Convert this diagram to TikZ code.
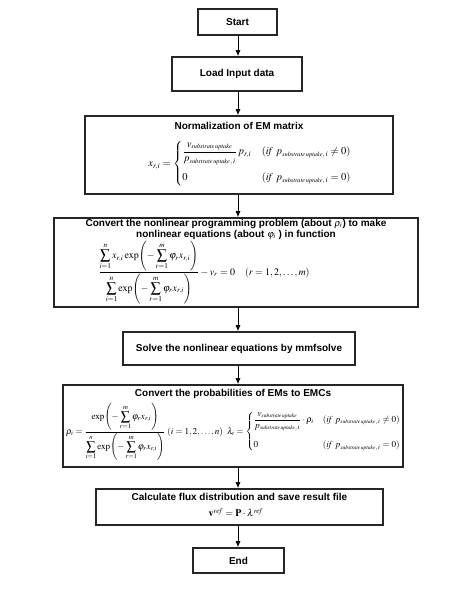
\documentclass[tikz,border=0pt]{standalone}
\usepackage{amsmath}
\usepackage{mathptmx}
\usepackage[no-math]{fontspec}
\setmainfont{Liberation Sans}
\usetikzlibrary{arrows.meta}
\newcommand{\sub}{{\scriptscriptstyle\mathit{substrate\,uptake}}}
\newcommand{\expsum}{\exp\!\left(-\sum\limits_{r=1}^{m}\varphi_r x_{r,i}\right)}
% box with its title at the top: width, height, gap above title, title
\newcommand{\topbox}[4]{\parbox[t][#2][t]{#1}{\centering\vspace*{#3}#4\par}}
\begin{document}
\begin{tikzpicture}[x=1pt,y=-1pt,
  box/.style={draw=black!85, line width=1.6pt, fill=white, align=center,
    font=\bfseries\fontsize{10}{11.5}\selectfont, inner sep=2pt},
  tbox/.style={box, inner sep=0pt, font=\bfseries\fontsize{10}{11}\selectfont},
  formula/.style={inner sep=0pt},
  arr/.style={-{Latex[length=6pt,width=5pt]}, line width=0.9pt}]
\useasboundingbox (0,0) rectangle (472,592);
\coordinate (mid) at (238,0);
% boxes
\node[box, minimum width=79pt, minimum height=26pt] (start) at (237.5,22) {Start};
\node[box, minimum width=130pt, minimum height=34pt] (load) at (237,74) {Load Input data};
\node[tbox] (norm) at (239,155) {\topbox{308pt}{78pt}{6.3pt}{Normalization of EM matrix}};
\node[tbox] (conv) at (236,262.5) {\topbox{364pt}{89pt}{1.2pt}{Convert the nonlinear programming problem (about $\rho_i$) to make\\
   nonlinear equations (about $\varphi_i$ ) in function}};
\node[box, minimum width=232pt, minimum height=33pt] (solve) at (239,348.5) {Solve the nonlinear equations by mmfsolve};
\node[tbox] (prob) at (233,426) {\topbox{340pt}{82pt}{4.3pt}{Convert the probabilities of EMs to EMCs}};
\node[tbox] (calc) at (239.5,507) {\topbox{287pt}{36pt}{4.3pt}{Calculate flux distribution and save result file}};
\node[box, minimum width=91pt, minimum height=25pt] (end) at (238.5,560.5) {End};
% formulas
\node[formula] (normF) at (250,164) {\fontsize{10.5}{12}\selectfont
  $x_{r,i}=\begin{cases}
   \dfrac{v_{\sub}}{p_{\sub,\,i}}\,p_{r,i} & \left(\mathit{if}\ p_{\sub,\,i}\neq 0\right)\\[12pt]
   0 & \left(\mathit{if}\ p_{\sub,\,i}=0\right)
  \end{cases}$};
\node[formula] (convF) at (204,272.5) {\fontsize{10}{12}\selectfont
  $\dfrac{\displaystyle\sum_{i=1}^{n}x_{r,i}\expsum}{\displaystyle\sum_{i=1}^{n}\expsum}-v_r=0\quad(r=1,2,\ldots,m)$};
\node[formula] (probF) at (233.5,432) {\fontsize{9.1}{10.5}\selectfont
  $\rho_i=\dfrac{\displaystyle\expsum}{\displaystyle\sum_{i=1}^{n}\expsum}\;(i=1,2,\ldots,n)\;\;
   \lambda_i=\begin{cases}
   \dfrac{v_{\sub}}{p_{\sub,\,i}}\cdot\rho_i & \left(\mathit{if}\ p_{\sub,\,i}\neq 0\right)\\[13pt]
   0 & \left(\mathit{if}\ p_{\sub,\,i}=0\right)
  \end{cases}$};
\node[formula] (calcF) at (236,512.5) {\fontsize{10}{12}\selectfont
  $\mathbf{v}^{\mathit{ref}}=\mathbf{P}\cdot\lambda^{\mathit{ref}}$};
% connectors
\draw[arr] (start.south -| mid) -- (load.north -| mid);
\draw[arr] (load.south -| mid) -- (norm.north -| mid);
\draw[arr] (norm.south -| mid) -- (conv.north -| mid);
\draw[arr] (conv.south -| mid) -- (solve.north -| mid);
\draw[arr] (solve.south -| mid) -- (prob.north -| mid);
\draw[arr] (prob.south -| mid) -- (calc.north -| mid);
\draw[arr] (calc.south -| mid) -- (end.north -| mid);
\end{tikzpicture}
\end{document}
